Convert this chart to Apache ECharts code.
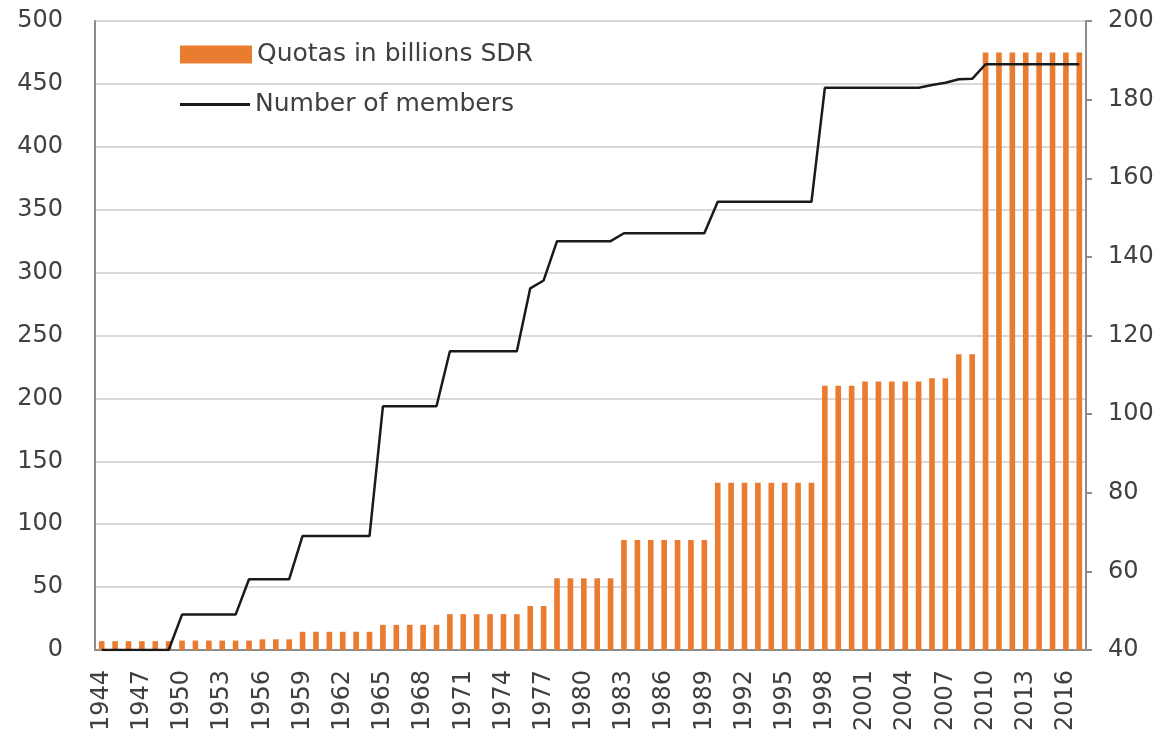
<!DOCTYPE html>
<html>
<head>
<meta charset="utf-8">
<title>IMF quotas and members</title>
<script src="https://cdn.jsdelivr.net/npm/echarts@6/dist/echarts.min.js"></script>
<style>
  html, body { margin: 0; padding: 0; background: #fff; }
  #chart { width: 1169px; height: 746px; }
</style>
</head>
<body>
<div id="chart"></div>
<script>
  // categories: one per year
  var years = ['1944','1945','1946','1947','1948','1949','1950','1951','1952','1953',
    '1954','1955','1956','1957','1958','1959','1960','1961','1962','1963',
    '1964','1965','1966','1967','1968','1969','1970','1971','1972','1973',
    '1974','1975','1976','1977','1978','1979','1980','1981','1982','1983',
    '1984','1985','1986','1987','1988','1989','1990','1991','1992','1993',
    '1994','1995','1996','1997','1998','1999','2000','2001','2002','2003',
    '2004','2005','2006','2007','2008','2009','2010','2011','2012','2013',
    '2014','2015','2016','2017'];

  // quotas in billions SDR (left axis)
  var quotas = [7, 7, 7, 7, 7, 7,
    7.5, 7.5, 7.5, 7.5, 7.5, 7.5,
    8.5, 8.5, 8.5,
    14.5, 14.5, 14.5, 14.5, 14.5, 14.5,
    20, 20, 20, 20, 20,
    28.5, 28.5, 28.5, 28.5, 28.5, 28.5,
    35, 35,
    57, 57, 57, 57, 57,
    87.5, 87.5, 87.5, 87.5, 87.5, 87.5, 87.5,
    133, 133, 133, 133, 133, 133, 133, 133,
    210, 210, 210,
    213.5, 213.5, 213.5, 213.5, 213.5,
    216, 216,
    235, 235,
    475, 475, 475, 475, 475, 475, 475, 475];

  // number of members (right axis)
  var members = [40, 40, 40, 40, 40, 40,
    49, 49, 49, 49, 49,
    58, 58, 58, 58,
    69, 69, 69, 69, 69, 69,
    102, 102, 102, 102, 102,
    116, 116, 116, 116, 116, 116,
    132, 134,
    144, 144, 144, 144, 144,
    146, 146, 146, 146, 146, 146, 146,
    154, 154, 154, 154, 154, 154, 154, 154,
    183, 183, 183, 183, 183, 183, 183, 183,
    183.7, 184.3, 185.2, 185.3,
    189, 189, 189, 189, 189, 189, 189, 189];

  var font = 'DejaVu Sans';
  var textColor = '#404040';
  var chart = echarts.init(document.getElementById('chart'));
  var legendText = { fontFamily: font, fontSize: 25, color: textColor };
  var option = {
    animation: false,
    backgroundColor: '#fff',
    grid: { left: 95, right: 83, top: 21, bottom: 96 },
    legend: [
      {
        left: 175,
        top: 37,
        itemWidth: 72,
        itemHeight: 18,
        icon: 'rect',
        textStyle: legendText,
        data: ['Quotas in billions SDR']
      },
      {
        left: 175,
        top: 87,
        itemWidth: 70,
        itemHeight: 3,
        icon: 'rect',
        textStyle: legendText,
        data: ['Number of members']
      }
    ],
    xAxis: {
      type: 'category',
      data: years,
      boundaryGap: true,
      axisLine: { lineStyle: { color: '#8c8c8c', width: 2 } },
      axisTick: { show: false },
      axisLabel: {
        interval: 2,
        rotate: 90,
        margin: 20,
        fontFamily: font,
        fontSize: 24,
        color: textColor
      }
    },
    yAxis: [
      {
        type: 'value',
        min: 0,
        max: 500,
        interval: 50,
        axisLine: { show: true, lineStyle: { color: '#8c8c8c', width: 2 } },
        axisTick: { show: false },
        splitLine: { lineStyle: { color: '#d9d9d9', width: 2 } },
        axisLabel: { margin: 32, fontFamily: font, fontSize: 24, color: textColor }
      },
      {
        type: 'value',
        min: 40,
        max: 200,
        interval: 20,
        position: 'right',
        axisLine: { show: true, lineStyle: { color: '#8c8c8c', width: 2 } },
        axisTick: { show: true, length: 6, lineStyle: { color: '#8c8c8c', width: 2 } },
        splitLine: { show: false },
        axisLabel: { margin: 22, fontFamily: font, fontSize: 24, color: textColor }
      }
    ],
    series: [
      {
        name: 'Quotas in billions SDR',
        type: 'bar',
        yAxisIndex: 0,
        barWidth: '42%',
        itemStyle: { color: '#E97C30' },
        data: quotas
      },
      {
        name: 'Number of members',
        type: 'line',
        yAxisIndex: 1,
        symbol: 'none',
        z: 5,
        lineStyle: { color: '#1a1a1a', width: 2.5 },
        itemStyle: { color: '#1a1a1a' },
        data: members
      }
    ]
  };
  chart.setOption(option);
</script>
</body>
</html>
